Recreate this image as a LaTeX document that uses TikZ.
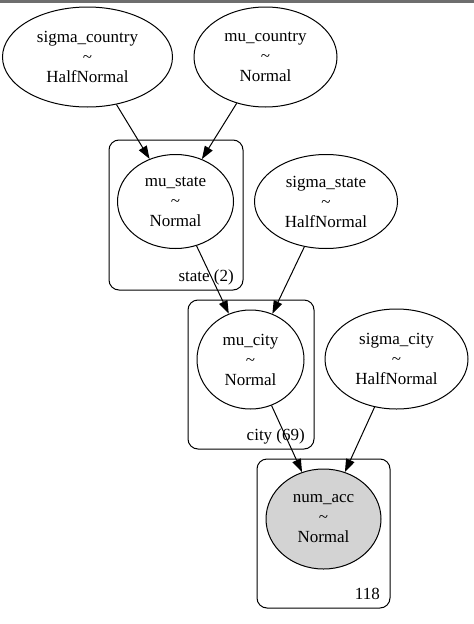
\documentclass[tikz,border=0pt]{standalone}
\usepackage{fontspec}
\setmainfont{Liberation Serif}
\usetikzlibrary{shapes.geometric,arrows.meta}
\definecolor{obsfill}{HTML}{D3D3D3}
\definecolor{topbar}{HTML}{6E6E6E}
\tikzset{
  rv/.style={ellipse, draw, line width=1pt, inner sep=0pt, align=center,
    font=\fontsize{17}{20}\selectfont},
  obs/.style={rv, fill=obsfill},
  plate/.style={draw, line width=1pt, rounded corners=10pt, inner sep=0pt},
  platelabel/.style={anchor=east, inner sep=0pt, font=\fontsize{17}{20}\selectfont},
  edge/.style={line width=1pt, -{Triangle[length=13pt,width=9pt]}}
}
\begin{document}
\begin{tikzpicture}[x=1pt,y=-1pt]
\useasboundingbox (0,0) rectangle (474,624);
\fill[topbar] (0,0) rectangle (474,2.5);
% plates
\node[plate, minimum width=134pt, minimum height=150pt] (pstate) at (176,215) {};
\node[plate, minimum width=126pt, minimum height=149pt] (pcity) at (251,374.5) {};
\node[plate, minimum width=133pt, minimum height=149pt] (pobs) at (323.5,533.5) {};
\node[platelabel] (lstate) at (234,277) {state (2)};
\node[platelabel] (lcity) at (305,436) {city (69)};
\node[platelabel] (lobs) at (380,594) {118};
% variables
\node[rv, minimum width=170pt, minimum height=100pt] (sc) at (87.5,57) {sigma\_country\\\textasciitilde\\HalfNormal};
\node[rv, minimum width=143pt, minimum height=100pt] (mc) at (265.5,57) {mu\_country\\\textasciitilde\\Normal};
\node[rv, minimum width=116pt, minimum height=94pt] (ms) at (175.5,201.5) {mu\_state\\\textasciitilde\\Normal};
\node[rv, minimum width=143pt, minimum height=94pt] (ss) at (326,201.5) {sigma\_state\\\textasciitilde\\HalfNormal};
\node[rv, minimum width=107pt, minimum height=99pt] (mci) at (250.5,359.5) {mu\_city\\\textasciitilde\\Normal};
\node[rv, minimum width=143pt, minimum height=100pt] (sci) at (396.5,359) {sigma\_city\\\textasciitilde\\HalfNormal};
\node[obs, minimum width=115pt, minimum height=100pt] (na) at (323.5,519) {num\_acc\\\textasciitilde\\Normal};
% edges
\draw[edge] (sc) -- (ms);
\draw[edge] (mc) -- (ms);
\draw[edge] (ms) -- (mci);
\draw[edge] (ss) -- (mci);
\draw[edge] (mci) -- (na);
\draw[edge] (sci) -- (na);
\end{tikzpicture}
\end{document}
